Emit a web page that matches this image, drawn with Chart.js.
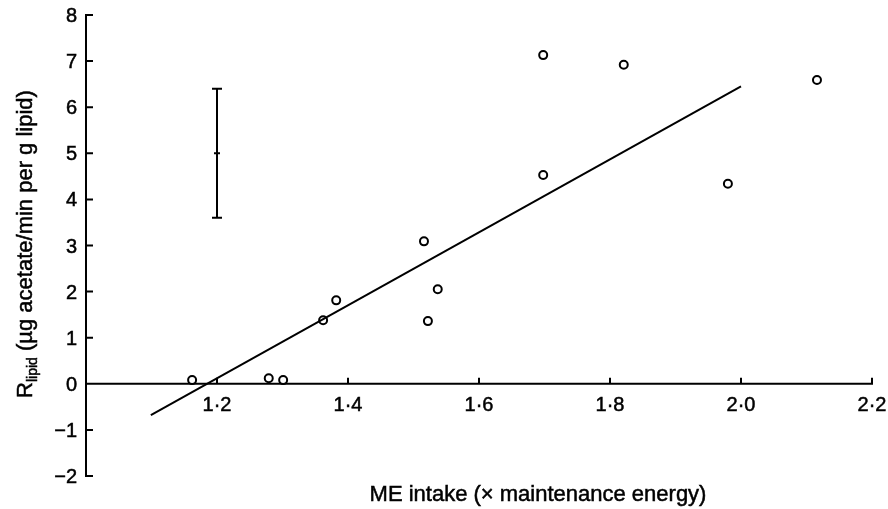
<!DOCTYPE html>
<html>
<head>
<meta charset="utf-8">
<script src="https://cdn.jsdelivr.net/npm/chart.js@4.4.0/dist/chart.umd.min.js"></script>
<style>
  html, body { margin: 0; padding: 0; background: #fff; }
  canvas { display: block; }
</style>
</head>
<body>
<canvas id="chart" width="888" height="509"></canvas>
<script>
// ME intake (x maintenance energy) and R lipid values
const intakeX = [1.162, 1.279, 1.301, 1.362, 1.382, 1.516, 1.522, 1.537, 1.698, 1.698, 1.821, 1.980, 2.116];
const rLipid = [0.08, 0.12, 0.08, 1.38, 1.81, 3.09, 1.36, 2.05, 7.13, 4.53, 6.92, 4.34, 6.59];

// regression line end points
const fitX = [1.099, 2.0];
const fitY = [-0.68, 6.45];

// representative error bar
const errX = [1.2];
const errMean = [5.0];
const errLow = [3.6];
const errHigh = [6.4];

const xTicks = [1.2, 1.4, 1.6, 1.8, 2.0, 2.2];
const xTickLabels = ["1·2", "1·4", "1·6", "1·8", "2·0", "2·2"];
const yTicks = [-2, -1, 0, 1, 2, 3, 4, 5, 6, 7, 8];

const FONT = '"Liberation Sans", Arial, sans-serif';

// fill + thin stroke so the text looks as heavy as the printed figure
function heavyText(ctx, s, px, py) {
  ctx.fillText(s, px, py);
  ctx.strokeText(s, px, py);
}

const axesPlugin = {
  id: "axes",
  beforeDatasetsDraw(chart) {
    const { ctx } = chart;
    const x = chart.scales.x, y = chart.scales.y;
    const left = x.getPixelForValue(x.min);
    const right = x.getPixelForValue(x.max);
    const zero = y.getPixelForValue(0);
    ctx.save();
    ctx.strokeStyle = "#000";
    ctx.fillStyle = "#000";
    ctx.lineWidth = 2;

    // y axis with inward ticks
    ctx.beginPath();
    ctx.moveTo(left, y.getPixelForValue(y.max));
    ctx.lineTo(left, y.getPixelForValue(y.min));
    yTicks.forEach((v) => {
      const py = y.getPixelForValue(v);
      ctx.moveTo(left - 1, py);
      ctx.lineTo(left + 7, py);
    });
    // x axis at y = 0 with upward ticks
    ctx.moveTo(left, zero);
    ctx.lineTo(right, zero);
    xTicks.forEach((v) => {
      const px = x.getPixelForValue(v);
      ctx.moveTo(px, zero + 1);
      ctx.lineTo(px, zero - 6);
    });
    ctx.stroke();

    ctx.lineWidth = 0.5;
    ctx.font = "20px " + FONT;
    ctx.textAlign = "right";
    ctx.textBaseline = "middle";
    yTicks.forEach((v) => {
      const lbl = v < 0 ? "\u2212" + Math.abs(v) : String(v);
      heavyText(ctx, lbl, left - 9, y.getPixelForValue(v) + 1.5);
    });
    ctx.textAlign = "center";
    xTicks.forEach((v, i) => {
      heavyText(ctx, xTickLabels[i], x.getPixelForValue(v), zero + 22);
    });

    // x title
    ctx.font = "22px " + FONT;
    heavyText(ctx, "ME intake (\u00d7 maintenance energy)", 538, 495);

    // y title with subscript
    const parts = [
      { t: "R", f: "22px " + FONT, dy: 0 },
      { t: "lipid", f: "14px " + FONT, dy: 5 },
      { t: " (\u00b5g acetate/min per g lipid)", f: "22px " + FONT, dy: 0 },
    ];
    let total = 0;
    parts.forEach((p) => { ctx.font = p.f; p.w = ctx.measureText(p.t).width; total += p.w; });
    ctx.translate(24, 244);
    ctx.rotate(-Math.PI / 2);
    ctx.textAlign = "left";
    ctx.textBaseline = "alphabetic";
    let cx = -total / 2;
    parts.forEach((p) => {
      ctx.font = p.f;
      heavyText(ctx, p.t, cx, 8 + p.dy);
      cx += p.w;
    });
    ctx.restore();

    // error bar
    ctx.save();
    ctx.strokeStyle = "#000";
    ctx.lineWidth = 2;
    errX.forEach((ex, i) => {
      const px = x.getPixelForValue(ex);
      const pLo = y.getPixelForValue(errLow[i]);
      const pHi = y.getPixelForValue(errHigh[i]);
      const pM = y.getPixelForValue(errMean[i]);
      ctx.beginPath();
      ctx.moveTo(px, pLo); ctx.lineTo(px, pHi);
      ctx.moveTo(px - 5, pLo); ctx.lineTo(px + 5, pLo);
      ctx.moveTo(px - 5, pHi); ctx.lineTo(px + 5, pHi);
      ctx.moveTo(px - 3, pM); ctx.lineTo(px + 3, pM);
      ctx.stroke();
    });
    ctx.restore();
  },
};

new Chart(document.getElementById("chart"), {
  type: "scatter",
  data: {
    datasets: [
      {
        type: "line",
        data: fitX.map((v, i) => ({ x: v, y: fitY[i] })),
        borderColor: "#000",
        borderWidth: 2,
        pointRadius: 0,
        fill: false,
      },
      {
        data: intakeX.map((v, i) => ({ x: v, y: rLipid[i] })),
        pointRadius: 4,
        borderWidth: 2,
        borderColor: "#000",
        backgroundColor: "#fff",
      },
    ],
  },
  options: {
    responsive: false,
    animation: false,
    layout: { padding: { left: 86, right: 16, top: 15, bottom: 33 } },
    plugins: { legend: { display: false }, tooltip: { enabled: false } },
    scales: {
      x: { type: "linear", min: 1.0, max: 2.2, display: false },
      y: { type: "linear", min: -2, max: 8, display: false },
    },
  },
  plugins: [axesPlugin],
});
</script>
</body>
</html>
